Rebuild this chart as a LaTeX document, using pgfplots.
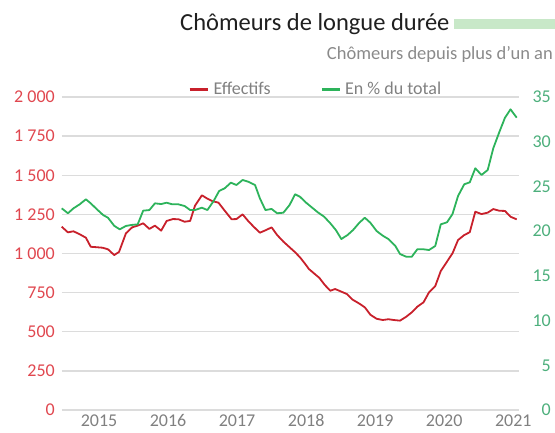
\documentclass[border=0pt]{standalone}
\usepackage{fontspec}
\setmainfont{Carlito}
\usepackage{pgfplots}
\pgfplotsset{compat=1.18}
\definecolor{redline}{HTML}{C8202B}
\definecolor{greenline}{HTML}{2DB35B}
\definecolor{redlab}{HTML}{E0474F}
\definecolor{greenlab}{HTML}{4DAF7C}
\definecolor{gridc}{HTML}{DCDCDC}
\definecolor{barc}{HTML}{C8E8C8}
\definecolor{yearc}{HTML}{808080}
\definecolor{subc}{HTML}{8A8A8A}
\begin{document}
\begin{tikzpicture}
\useasboundingbox (0pt,0pt) rectangle (555pt,432pt);
\fill[barc] (454pt,403pt) rectangle (555pt,412.5pt);
\node[anchor=base west, inner sep=0pt, font=\fontsize{24.5}{28}\selectfont, text=black!88] at (180pt,401pt) {Chômeurs de longue durée};
\node[anchor=base east, inner sep=0pt, font=\fontsize{18.5}{22}\selectfont, text=subc] at (553pt,372.5pt) {Chômeurs depuis plus d’un an};
\begin{axis}[
  at={(62pt,22pt)}, anchor=south west,
  scale only axis, width=457pt, height=313pt,
  xmin=2014.464, xmax=2021.083, ymin=0, ymax=2000,
  axis x line*=bottom, axis y line*=left,
  axis line style={draw=none},
  major tick length=0pt,
  xtick={2015,2016,2017,2018,2019,2020,2021},
  xticklabels={2015,2016,2017,2018,2019,2020,2021},
  ytick={0,250,500,750,1000,1250,1500,1750,2000},
  yticklabels={0,250,500,750,1 000,1 250,1 500,1 750,2 000},
  ymajorgrids, grid style={gridc, line width=1.4pt},
  every tick label/.append style={font=\fontsize{18}{20}\selectfont},
  xticklabel style={anchor=base, inner sep=0pt, yshift=-16.5pt, text=yearc},
  yticklabel style={anchor=east, inner sep=0pt, xshift=-7pt, text=redlab},
  clip=false,
  legend columns=2,
  legend style={draw=none, fill=none, inner sep=0pt, at={(0.2766,1.024)}, anchor=west,
    font=\fontsize{18}{20}\selectfont, text=yearc,
    /tikz/every even column/.append style={column sep=48pt}},
  legend image code/.code={\draw[#1, line width=2.2pt] (0pt,0pt) -- (18pt,0pt); \path (21pt,0pt);},
]
\addplot[redline, line width=1.8pt, line join=round] coordinates {
(2014.46,1171)(2014.55,1135)(2014.63,1142)(2014.72,1123)(2014.81,1101)(2014.88,1043)
(2014.97,1040)(2015.05,1037)(2015.13,1027)(2015.22,990)(2015.29,1010)(2015.39,1129)
(2015.48,1167)(2015.56,1178)(2015.64,1193)(2015.73,1157)(2015.81,1178)(2015.90,1146)
(2015.98,1208)(2016.07,1220)(2016.15,1219)(2016.24,1203)(2016.32,1208)(2016.39,1305)
(2016.49,1372)(2016.56,1353)(2016.64,1335)(2016.73,1325)(2016.82,1274)(2016.92,1219)
(2016.99,1220)(2017.08,1250)(2017.16,1208)(2017.24,1171)(2017.33,1133)(2017.42,1150)
(2017.50,1167)(2017.58,1118)(2017.67,1076)(2017.76,1040)(2017.84,1008)(2017.91,976)
(2017.98,937)(2018.04,901)(2018.13,867)(2018.19,845)(2018.27,799)(2018.35,762)
(2018.42,773)(2018.49,760)(2018.59,741)(2018.67,706)(2018.77,680)(2018.85,656)
(2018.93,609)(2019.02,583)(2019.11,575)(2019.19,580)(2019.27,575)(2019.36,571)
(2019.45,596)(2019.53,624)(2019.61,660)(2019.70,688)(2019.78,752)(2019.87,792)
(2019.95,888)(2020.04,948)(2020.12,1001)(2020.20,1086)(2020.29,1118)(2020.37,1136)
(2020.45,1267)(2020.54,1252)(2020.63,1261)(2020.71,1284)(2020.80,1273)(2020.88,1272)
(2020.96,1235)(2021.05,1218)
};
\addlegendentry{Effectifs}
\addlegendimage{greenline}
\addlegendentry{En \% du total}
\end{axis}
\begin{axis}[
  at={(62pt,22pt)}, anchor=south west,
  scale only axis, width=457pt, height=313pt,
  xmin=2014.464, xmax=2021.083, ymin=0, ymax=35,
  axis x line=none, axis y line*=right,
  axis line style={draw=none},
  major tick length=0pt,
  ytick={0,5,10,15,20,25,30,35},
  yticklabels={0,5,10,15,20,25,30,35},
  every tick label/.append style={font=\fontsize{18}{20}\selectfont},
  yticklabel style={anchor=east, inner sep=0pt, xshift=32pt, text=greenlab},
  clip=false,
]
\addplot[greenline, line width=1.8pt, line join=round] coordinates {
(2014.46,22.55)(2014.55,22.0)(2014.63,22.55)(2014.72,23.0)(2014.81,23.56)(2014.88,23.11)
(2014.97,22.44)(2015.06,21.8)(2015.13,21.5)(2015.22,20.6)(2015.30,20.2)(2015.39,20.58)
(2015.47,20.69)(2015.56,20.76)(2015.64,22.29)(2015.73,22.36)(2015.81,23.11)(2015.90,23.03)
(2015.98,23.18)(2016.06,23.0)(2016.15,23.0)(2016.24,22.81)(2016.32,22.36)(2016.39,22.36)
(2016.49,22.62)(2016.57,22.36)(2016.66,23.37)(2016.74,24.49)(2016.82,24.79)(2016.91,25.42)
(2016.99,25.16)(2017.08,25.72)(2017.16,25.53)(2017.26,25.16)(2017.33,23.67)(2017.41,22.36)
(2017.50,22.48)(2017.58,22.0)(2017.67,22.06)(2017.76,22.92)(2017.84,24.12)(2017.91,23.85)
(2018.00,23.18)(2018.08,22.67)(2018.17,22.1)(2018.26,21.62)(2018.35,20.88)(2018.43,20.13)
(2018.51,19.12)(2018.60,19.57)(2018.68,20.13)(2018.77,20.94)(2018.85,21.5)(2018.93,20.94)
(2019.02,20.02)(2019.11,19.49)(2019.19,19.12)(2019.29,18.37)(2019.36,17.44)(2019.45,17.14)
(2019.53,17.14)(2019.61,17.97)(2019.70,17.97)(2019.78,17.89)(2019.87,18.34)(2019.95,20.76)
(2020.04,20.99)(2020.12,21.92)(2020.20,23.93)(2020.29,25.24)(2020.37,25.46)(2020.45,27.03)
(2020.54,26.28)(2020.63,26.84)(2020.71,29.26)(2020.80,31.12)(2020.88,32.69)(2020.96,33.62)
(2021.05,32.69)
};
\end{axis}
\end{tikzpicture}
\end{document}
